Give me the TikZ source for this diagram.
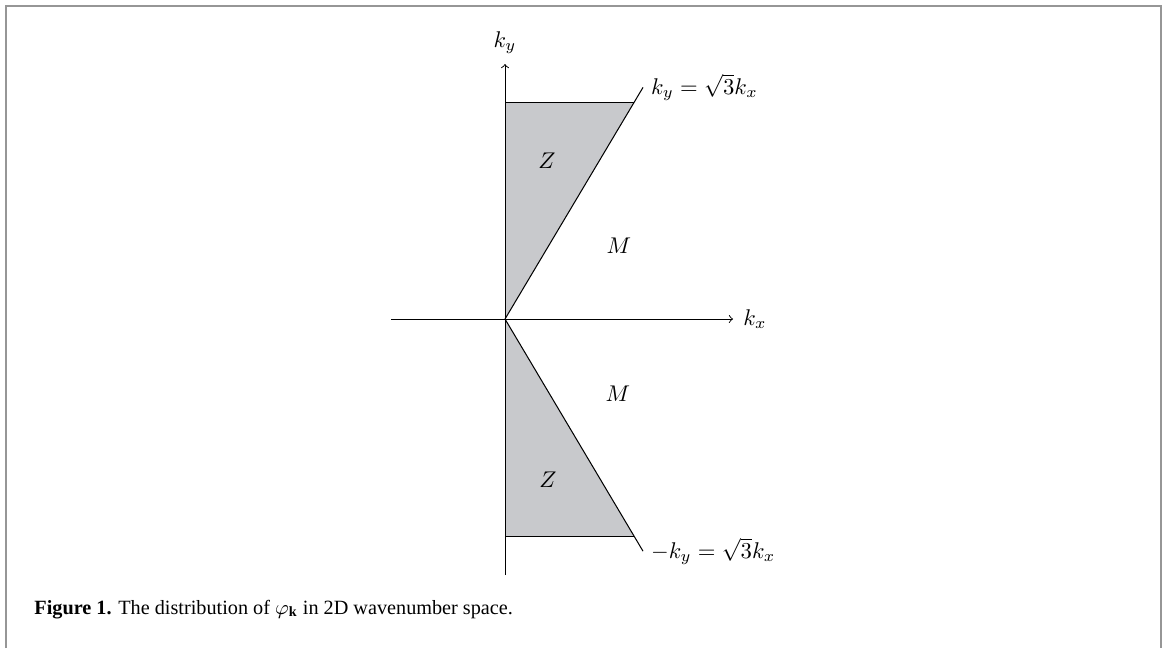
\documentclass[tikz,border=0pt]{standalone}
\usepackage{amsmath,amssymb}
\usepackage{fontspec}
\setmainfont{Liberation Serif}
\usepackage{tikz}
\usepackage{xcolor}
\usetikzlibrary{positioning,calc}
\definecolor{zonegray}{RGB}{200,201,204}
\definecolor{framegray}{RGB}{150,150,150}

\begin{document}
\begin{tikzpicture}[
      x=0.44pt, y=-0.44pt,
      zone/.style={fill=zonegray},
      axis/.style={->, line width=0.4pt},
      bound/.style={line width=0.45pt},
      frame/.style={draw=framegray, line width=0.9pt},
      capt/.style={anchor=base west, inner sep=0pt, font=\fontsize{8.9}{11}\selectfont}
  ]
    \useasboundingbox (0,0) rectangle (1168,648);
    \draw[frame] (6,648) -- (6,6) -- (1161,6) -- (1161,648);
    \coordinate (O) at (505,319);
    \coordinate (zt) at (505,102.5);
    \coordinate (ct) at (634,102.5);
    \coordinate (zb) at (505,536);
    \coordinate (cb) at (634,536);
    \coordinate (tend) at ($(O)!1.07!(ct)$);
    \coordinate (bend) at ($(O)!1.07!(cb)$);
    \fill[zone] (O) -- (ct) -- (zt) -- cycle;
    \fill[zone] (O) -- (cb) -- (zb) -- cycle;
    \draw[bound] (zt) -- (ct);
    \draw[bound] (zb) -- (cb);
    \draw[bound] (O) -- (tend);
    \draw[bound] (O) -- (bend);
    \node[right] (ltop) at (tend) {$k_y=\sqrt{3}k_x$};
    \node[right] (lbot) at (bend) {$-k_y=\sqrt{3}k_x$};
    % axes
    \coordinate (xl) at (391,319);
    \coordinate (xr) at (733,319);
    \coordinate (yb) at (505,575);
    \coordinate (yt) at (505,64);
    \draw[axis] (xl) -- (xr);
    \draw[axis] (yb) -- (yt);
    \node[right=1pt] (kx) at (xr) {$k_x$};
    \node[above=1pt] (ky) at (yt) {$k_y$};
    % regions
    \node (zup) at (547,161) {$Z$};
    \node (mup) at (619,246) {$M$};
    \node (mdown) at (618,394) {$M$};
    \node (zdown) at (548,480) {$Z$};
    \node[capt] (cap) at (34,614) {\textbf{Figure 1.} The distribution of $\varphi_{\mathbf{k}}$ in 2D wavenumber space.};
\end{tikzpicture}
\end{document}
